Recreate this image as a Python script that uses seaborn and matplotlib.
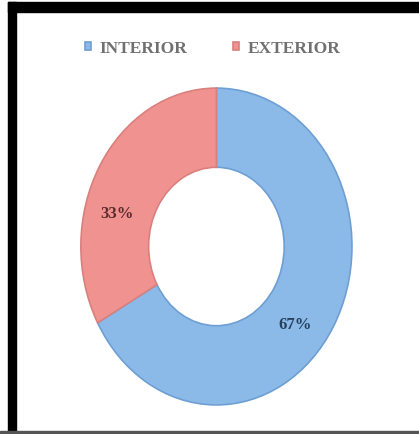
import numpy as np
import matplotlib.pyplot as plt
import seaborn as sns
from matplotlib.patches import Rectangle

# data
labels = ["INTERIOR", "EXTERIOR"]
shares = [67, 33]
colors = ["#8BBAE8", "#F09390"]
edge_colors = ["#6E9FD3", "#D9807D"]
pct_colors = ["#25405F", "#5A2A2E"]
label_shift = [-10, 15]  # degrees, nudges the % labels like the original

sns.set_theme(style="white")
plt.rcParams['font.family'] = ['Liberation Serif', 'DejaVu Serif']

fig = plt.figure(figsize=(4.19, 4.34), dpi=100)
fig.patch.set_facecolor("white")
ax = fig.add_axes([0.193, 0.067, 0.647, 0.730])

wedges, texts, autotexts = ax.pie(
    shares, colors=colors, startangle=90, counterclock=False,
    autopct="%d%%", pctdistance=0.76,
    wedgeprops=dict(width=0.5, linewidth=1.2),
    textprops=dict(fontsize=12, fontweight="bold"),
)
for w, ec, t, c, s in zip(wedges, edge_colors, autotexts, pct_colors, label_shift):
    w.set_edgecolor(ec)
    t.set_color(c)
    ang = np.deg2rad((w.theta1 + w.theta2) / 2 + s)
    t.set_position((0.76 * np.cos(ang), 0.76 * np.sin(ang)))

ax.set_aspect("auto")
ax.set_xlim(-1.0, 1.0)
ax.set_ylim(-1.0, 1.0)
ax.axis("off")

fig.legend(wedges, labels, loc="center", bbox_to_anchor=(0.508, 0.888),
           ncol=2, frameon=False, handlelength=0.35,
           handleheight=0.35, handletextpad=0.5, columnspacing=2.6,
           labelcolor="#707070",
           prop=dict(family=['Liberation Serif', 'DejaVu Serif'], size=12.5, weight="bold"))

# black frame strips like the original screenshot
fig.patches.append(Rectangle((0.019, 0.972), 0.981, 0.024, transform=fig.transFigure,
                             color="black", zorder=10))
fig.patches.append(Rectangle((0.019, 0.0), 0.019, 0.996, transform=fig.transFigure,
                             color="black", zorder=10))
fig.patches.append(Rectangle((0.0, 0.0), 1.0, 0.006, transform=fig.transFigure,
                             color="#555555", zorder=10))

fig.savefig("out.png", dpi=100)
